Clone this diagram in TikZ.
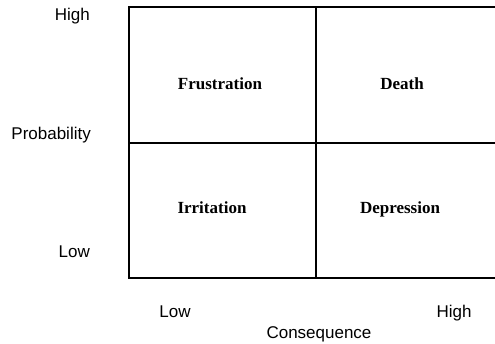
\documentclass[tikz,border=0pt]{standalone}
\usepackage{fontspec}
\setmainfont{Liberation Serif}
\setsansfont{Liberation Sans}
\usepackage{tikz}

\tikzset{
  axislabel/.style={font=\sffamily\fontsize{17}{20}\selectfont, inner sep=0pt},
  cell/.style={font=\bfseries\fontsize{17}{20}\selectfont, inner sep=0pt, anchor=base}
}

\begin{document}
\begin{tikzpicture}
[
  x=1pt, y=-1pt
]

\useasboundingbox (0,0) rectangle (495,344);
\clip (0,0) rectangle (495,344);

% the grid, open on the right
\draw[line width=1.1pt] (510,7) -- (129,7) -- (129,278) -- (510,278);
\draw[line width=1.1pt] (316,7) -- (316,278);
\draw[line width=1.1pt] (129,143) -- (510,143);

% cells
\node[cell] (frus) at (220,90) {Frustration};
\node[cell] (death) at (402,90) {Death};
\node[cell] (irr) at (212,214) {Irritation};
\node[cell] (dep) at (400,214) {Depression};

% probability axis
\node[axislabel, anchor=base east] (phigh) at (90,21) {High};
\node[axislabel, anchor=base east] (prob) at (91,140) {Probability};
\node[axislabel, anchor=base east] (plow) at (90,258) {Low};

% consequence axis
\node[axislabel, anchor=base] (clow) at (175,318) {Low};
\node[axislabel, anchor=base] (chigh) at (454,318) {High};
\node[axislabel, anchor=base] (cons) at (319,338) {Consequence};

\end{tikzpicture}
\end{document}
